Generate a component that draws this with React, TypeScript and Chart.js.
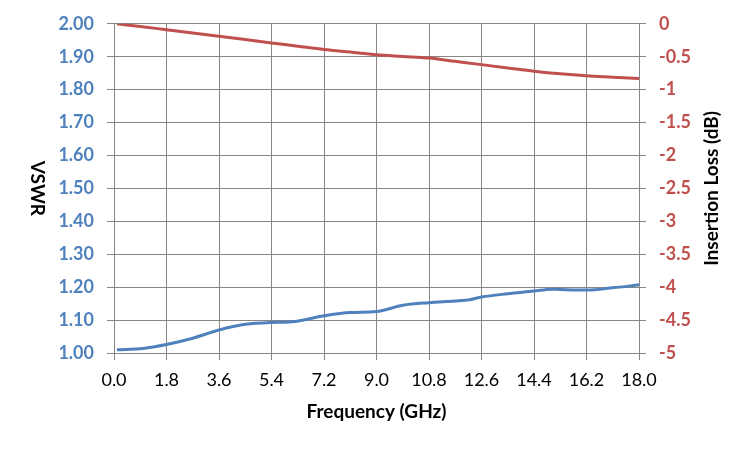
import { useEffect, useRef } from "react";
import { Chart, registerables } from "chart.js";

Chart.register(...registerables);

// values
const vswrFreq = [0.1, 1.0, 1.8, 2.7, 3.6, 4.5, 5.4, 6.1, 7.2, 8.1, 9.0, 9.9, 10.8, 11.7, 12.2, 12.6, 13.5, 14.4, 15.0, 15.3, 16.2, 17.1, 18.0];
const vswr = [1.01, 1.014, 1.026, 1.045, 1.07, 1.087, 1.093, 1.095, 1.113, 1.123, 1.126, 1.145, 1.153, 1.158, 1.162, 1.17, 1.18, 1.188, 1.194, 1.193, 1.191, 1.198, 1.207];

const lossFreq = [0.1, 0.9, 1.8, 2.7, 3.6, 4.5, 5.4, 6.3, 7.2, 8.1, 9.0, 9.9, 10.8, 11.7, 12.6, 13.5, 14.4, 15.3, 16.2, 17.1, 18.0];
const insertionLoss = [0, -0.04, -0.09, -0.14, -0.19, -0.24, -0.29, -0.34, -0.39, -0.43, -0.47, -0.495, -0.52, -0.57, -0.62, -0.67, -0.72, -0.76, -0.79, -0.81, -0.83];

const BLUE = "#4F81BD";
const RED = "#C0504D";
const GRID = "#868686";
const FONT = "Lato";

const axisTitles = {
  id: "axisTitles",
  afterDraw(chart: Chart) {
    const { ctx, chartArea } = chart;
    const midY = (chartArea.top + chartArea.bottom) / 2;
    ctx.save();
    ctx.fillStyle = "#000";
    ctx.font = `bold 19px ${FONT}`;
    ctx.textAlign = "center";
    ctx.textBaseline = "middle";

    ctx.save();
    ctx.translate(37, midY);
    ctx.rotate(Math.PI / 2);
    ctx.fillText("VSWR", 0, 0);
    ctx.restore();

    ctx.save();
    ctx.translate(712, midY);
    ctx.rotate(-Math.PI / 2);
    ctx.fillText("Insertion Loss (dB)", 0, 0);
    ctx.restore();

    ctx.fillText("Frequency (GHz)", (chartArea.left + chartArea.right) / 2, 412);
    ctx.restore();
  },
};

const App = () => {
  const canvasRef = useRef<HTMLCanvasElement>(null);

  useEffect(() => {
    if (!canvasRef.current) return;

    const chart = new Chart(canvasRef.current, {
      type: "line",
      data: {
        datasets: [
          {
            label: "VSWR",
            data: vswrFreq.map((f, i) => ({ x: f, y: vswr[i] })),
            borderColor: BLUE,
            borderWidth: 3,
            pointRadius: 0,
            cubicInterpolationMode: "monotone",
            yAxisID: "y",
          },
          {
            label: "Insertion Loss",
            data: lossFreq.map((f, i) => ({ x: f, y: insertionLoss[i] })),
            borderColor: RED,
            borderWidth: 3,
            pointRadius: 0,
            cubicInterpolationMode: "monotone",
            yAxisID: "y2",
          },
        ],
      },
      options: {
        animation: false,
        responsive: false,
        layout: { padding: { top: 23, left: 0, right: 0, bottom: 0 } },
        plugins: {
          legend: { display: false },
          tooltip: { enabled: false },
        },
        scales: {
          x: {
            type: "linear",
            min: 0,
            max: 18,
            afterFit: (scale) => {
              scale.height = 97;
            },
            afterBuildTicks: (scale) => {
              scale.ticks = Array.from({ length: 11 }, (_, i) => ({ value: i * 1.8 }));
            },
            ticks: {
              color: "#000",
              font: { family: FONT, size: 18 },
              padding: 9,
              maxRotation: 0,
              callback: (v) => Number(v).toFixed(1),
            },
            grid: { color: GRID, tickLength: 7, tickColor: GRID },
            border: { color: GRID },
          },
          y: {
            position: "left",
            min: 1,
            max: 2,
            afterFit: (scale) => {
              scale.width = 114;
            },
            ticks: {
              stepSize: 0.1,
              color: BLUE,
              font: { family: FONT, size: 18, weight: "bold" },
              padding: 13,
              callback: (v) => Number(v).toFixed(2),
            },
            grid: { color: GRID, tickLength: 7, tickColor: GRID },
            border: { color: GRID },
          },
          y2: {
            position: "right",
            min: -5,
            max: 0,
            afterFit: (scale) => {
              scale.width = 111;
            },
            ticks: {
              stepSize: 0.5,
              color: RED,
              font: { family: FONT, size: 18, weight: "bold" },
              padding: 13,
              callback: (v) => String(parseFloat(Number(v).toFixed(1))),
            },
            grid: { drawOnChartArea: false, color: GRID, tickLength: 7, tickColor: GRID },
            border: { color: GRID },
          },
        },
      },
      plugins: [axisTitles],
    });

    return () => chart.destroy();
  }, []);

  return (
    <div style={{ position: "fixed", left: 0, top: 0, width: 750, height: 450, background: "#fff" }}>
      <canvas ref={canvasRef} width={750} height={450}></canvas>
    </div>
  );
};

export default App;
